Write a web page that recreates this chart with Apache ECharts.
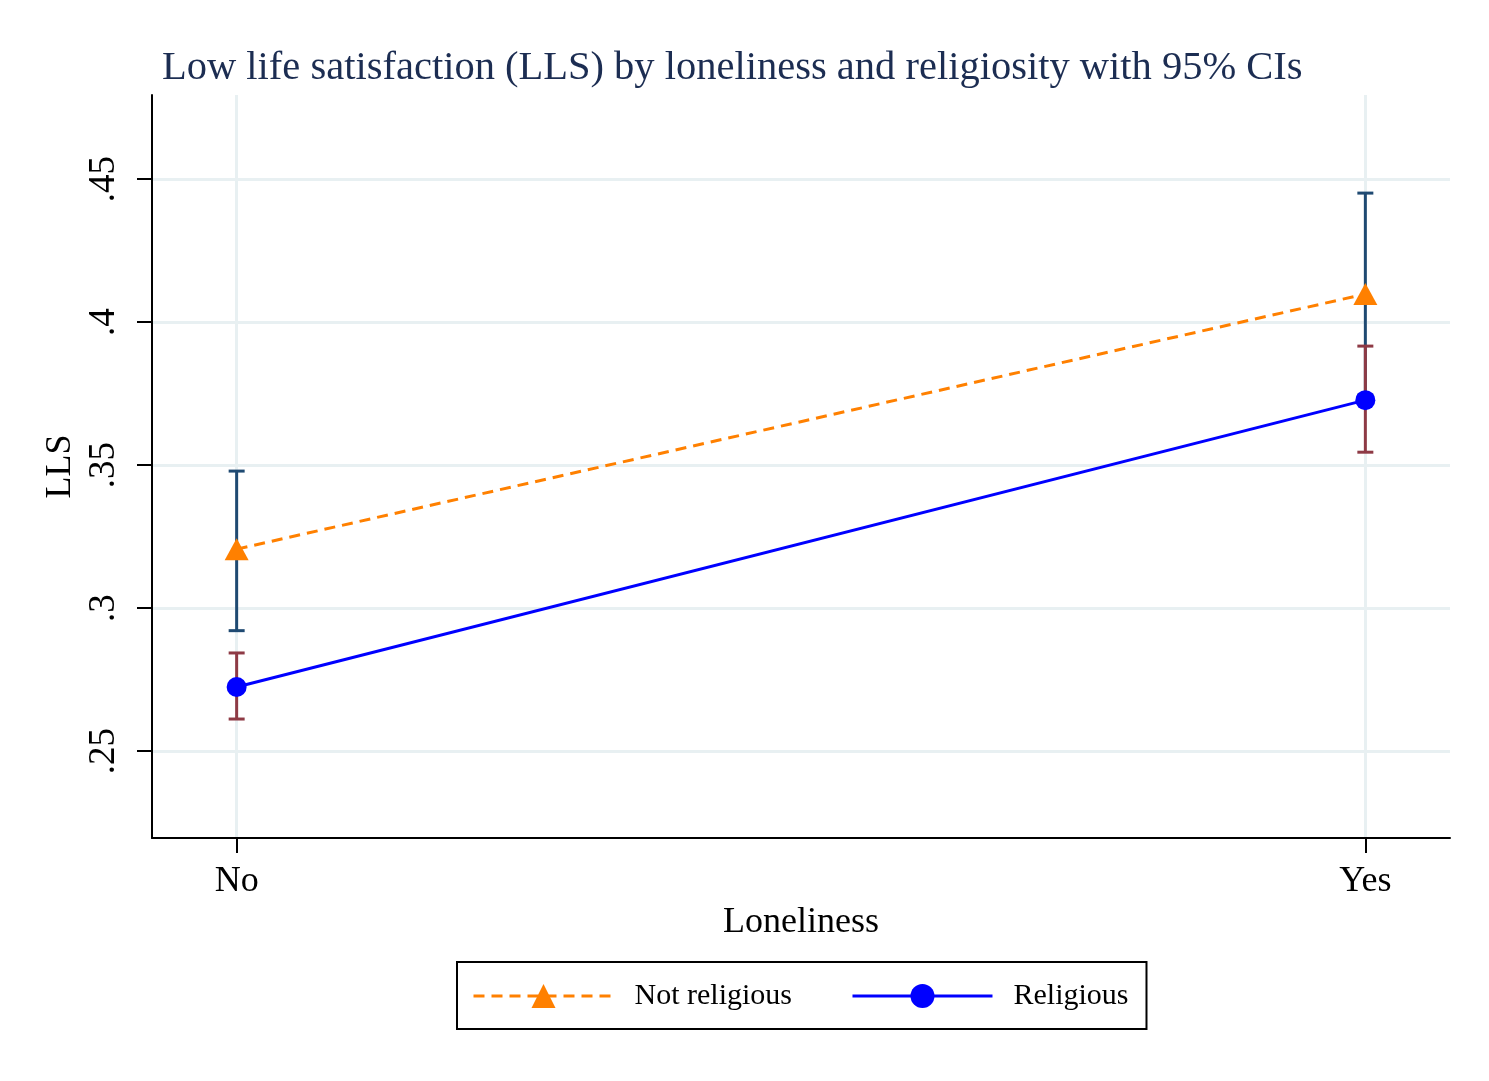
<!DOCTYPE html>
<html><head><meta charset="utf-8">
<script src="https://cdn.jsdelivr.net/npm/echarts@6/dist/echarts.min.js"></script>
<style>html,body{margin:0;padding:0;background:#fff}#c{width:1489px;height:1081px}</style>
</head><body><div id="c"></div>
<script>
const categories = ['No', 'Yes'];
const xPositions = [0, 1];
const yTicks = [0.25, 0.30, 0.35, 0.40, 0.45];
const yTickLabels = ['.25', '.3', '.35', '.4', '.45'];
const notReligious = [0.3206, 0.4098];
const notReligiousLow = [0.2921, 0.3745];
const notReligiousHigh = [0.3479, 0.4451];
const religious = [0.2724, 0.3727];
const religiousLow = [0.2612, 0.3545];
const religiousHigh = [0.2843, 0.3916];

const serif = '"Liberation Serif", "DejaVu Serif", serif';
const chart = echarts.init(document.getElementById('c'));

function ciSeries(name, low, high, color, z) {
  return {
    name: name, type: 'custom', z: z, silent: true,
    data: xPositions.map((x, i) => [x, low[i], high[i]]),
    renderItem: function (params, api) {
      const x = api.value(0);
      const lo = api.coord([x, api.value(1)]);
      const hi = api.coord([x, api.value(2)]);
      const w = 8;
      const st = { stroke: color, lineWidth: 3, fill: null, lineDash: null };
      return { type: 'group', children: [
        { type: 'line', shape: { x1: lo[0], y1: lo[1], x2: hi[0], y2: hi[1] }, style: st },
        { type: 'line', shape: { x1: lo[0] - w, y1: lo[1], x2: lo[0] + w, y2: lo[1] }, style: st },
        { type: 'line', shape: { x1: hi[0] - w, y1: hi[1], x2: hi[0] + w, y2: hi[1] }, style: st }
      ]};
    }
  };
}

const option = {
  backgroundColor: '#fff',
  animation: false,
  title: {
    text: 'Low life satisfaction (LLS) by loneliness and religiosity with 95% CIs',
    left: 157, top: 43,
    textStyle: { fontFamily: serif, fontSize: 40.5, fontWeight: 'normal', color: '#1c2d52' }
  },
  grid: { left: 152, right: 39, top: 95, bottom: 243 },
  xAxis: {
    type: 'value', min: -0.075, max: 1.075,
    name: 'Loneliness', nameLocation: 'middle', nameGap: 64,
    nameTextStyle: { fontFamily: serif, fontSize: 36, color: '#000' },
    axisLine: { show: true, onZero: false, lineStyle: { color: '#000', width: 2 } },
    axisTick: { show: true, length: 15, customValues: xPositions, lineStyle: { color: '#000', width: 2 } },
    axisLabel: { customValues: xPositions, margin: 26, fontFamily: serif, fontSize: 36, color: '#000',
      formatter: v => categories[xPositions.indexOf(v)] || '' },
    splitLine: { show: false }
  },
  yAxis: {
    type: 'value', min: 0.2196, max: 0.4794,
    name: 'LLS', nameLocation: 'middle', nameGap: 68, nameRotate: 90,
    nameTextStyle: { fontFamily: serif, fontSize: 36, color: '#000' },
    axisLine: { show: true, onZero: false, lineStyle: { color: '#000', width: 2 } },
    axisTick: { show: true, length: 15, customValues: yTicks, lineStyle: { color: '#000', width: 2 } },
    axisLabel: { customValues: yTicks, rotate: 90, margin: 29, fontFamily: serif, fontSize: 37, color: '#000',
      formatter: v => { const i = yTicks.findIndex(t => Math.abs(t - v) < 1e-6); return i >= 0 ? yTickLabels[i] : ''; } },
    splitLine: { show: false }
  },
  legend: {
    left: 457, top: 962,
    orient: 'horizontal',
    padding: [19, 18, 18, 15],
    borderColor: '#000', borderWidth: 2,
    itemWidth: 140, itemHeight: 30, itemGap: 59,
    lineStyle: { width: 3 },
    textStyle: { fontFamily: serif, fontSize: 30, color: '#000', padding: [0, 0, 0, 16] },
    data: ['Not religious', 'Religious']
  },
  series: [
    {
      name: 'grid', type: 'line', data: [], silent: true, z: 0,
      markLine: {
        silent: true, symbol: 'none', label: { show: false }, z: 0,
        lineStyle: { color: '#e8f0f2', width: 3, type: 'solid' },
        data: yTicks.map(v => ({ yAxis: v })).concat(xPositions.map(v => ({ xAxis: v })))
      }
    },
    ciSeries('ciNot', notReligiousLow, notReligiousHigh, '#1f4a72', 3),
    ciSeries('ciRel', religiousLow, religiousHigh, '#8e3a45', 4),
    {
      name: 'Not religious', type: 'line', z: 5,
      data: xPositions.map((x, i) => [x, notReligious[i]]),
      symbol: 'triangle', symbolSize: [24, 22],
      itemStyle: { color: '#ff8000' },
      lineStyle: { color: '#ff8000', width: 3, type: [11, 7] }
    },
    {
      name: 'Religious', type: 'line', z: 5,
      data: xPositions.map((x, i) => [x, religious[i]]),
      symbol: 'circle', symbolSize: 20,
      itemStyle: { color: '#0000ff' },
      lineStyle: { color: '#0000ff', width: 3 }
    }
  ]
};
chart.setOption(option);
</script></body></html>
